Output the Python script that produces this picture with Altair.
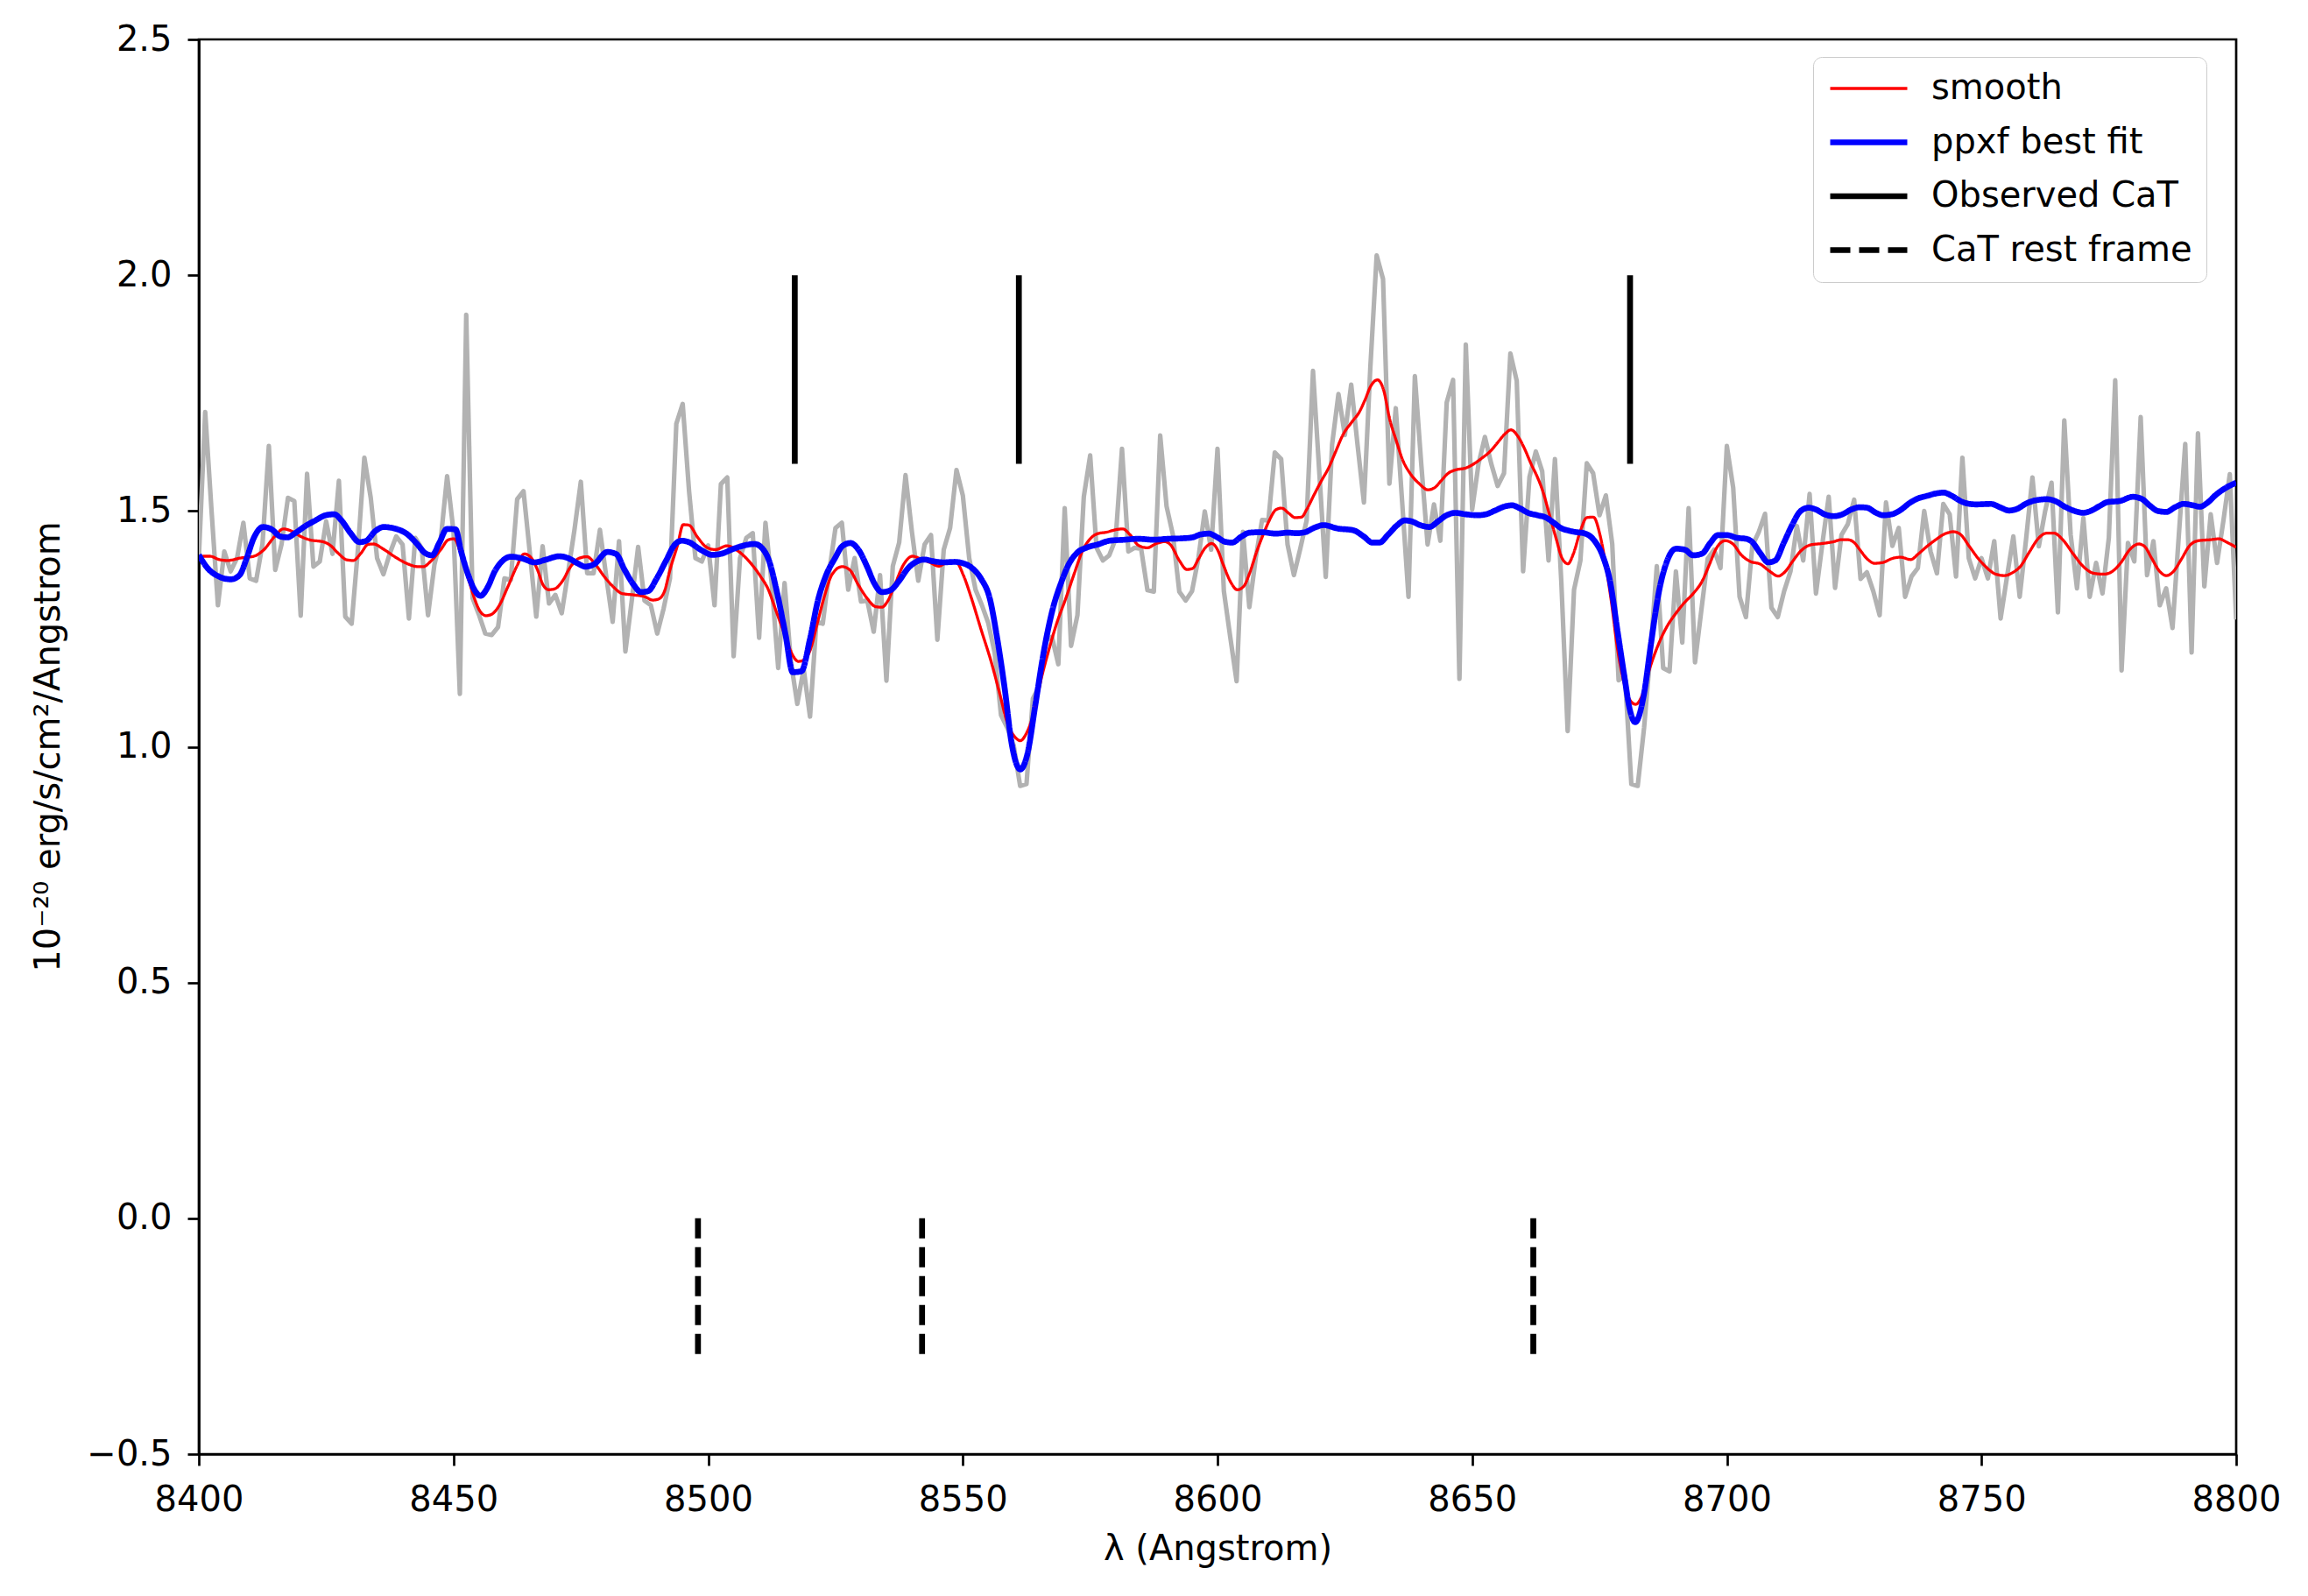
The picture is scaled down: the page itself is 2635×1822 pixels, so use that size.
import altair as alt
import pandas as pd

# ---------------- data ----------------
WAVE_START = 8400.0
WAVE_STEP = 1.25

flux_obs = [
    1.40, 1.71, 1.50, 1.30, 1.414, 1.372, 1.40, 1.475, 1.357, 1.352,
    1.43, 1.638, 1.375, 1.43, 1.528, 1.521, 1.278, 1.579, 1.382, 1.393,
    1.478, 1.409, 1.564, 1.276, 1.261, 1.42, 1.613, 1.528, 1.40, 1.366,
    1.41, 1.446, 1.429, 1.272, 1.443, 1.421, 1.279, 1.386, 1.44, 1.574,
    1.457, 1.112, 1.916, 1.315, 1.28, 1.24, 1.237, 1.254, 1.357, 1.354,
    1.525, 1.542, 1.41, 1.276, 1.425, 1.304, 1.322, 1.283, 1.37, 1.46,
    1.562, 1.368, 1.368, 1.46, 1.36, 1.265, 1.436, 1.202, 1.31, 1.424,
    1.31, 1.30, 1.24, 1.293, 1.357, 1.685, 1.727, 1.542, 1.40, 1.393,
    1.427, 1.30, 1.557, 1.571, 1.192, 1.40, 1.443, 1.453, 1.231, 1.475,
    1.343, 1.167, 1.347, 1.18, 1.091, 1.165, 1.064, 1.265, 1.261, 1.37,
    1.464, 1.475, 1.333, 1.40, 1.308, 1.31, 1.244, 1.364, 1.14, 1.383,
    1.433, 1.576, 1.456, 1.352, 1.429, 1.449, 1.227, 1.418, 1.464, 1.587,
    1.533, 1.40, 1.333, 1.30, 1.262, 1.20, 1.067, 1.04, 1.002, 0.917,
    0.921, 1.102, 1.129, 1.225, 1.233, 1.175, 1.506, 1.214, 1.279, 1.53,
    1.618, 1.422, 1.395, 1.406, 1.441, 1.632, 1.414, 1.422, 1.42, 1.332,
    1.329, 1.66, 1.51, 1.449, 1.329, 1.31, 1.33, 1.40, 1.499, 1.418,
    1.632, 1.33, 1.233, 1.139, 1.456, 1.296, 1.40, 1.481, 1.48, 1.624,
    1.61, 1.429, 1.364, 1.42, 1.48, 1.797, 1.58, 1.36, 1.641, 1.748,
    1.661, 1.768, 1.64, 1.518, 1.803, 2.042, 1.992, 1.558, 1.718, 1.52,
    1.318, 1.786, 1.60, 1.429, 1.514, 1.437, 1.73, 1.778, 1.144, 1.853,
    1.503, 1.60, 1.657, 1.60, 1.553, 1.58, 1.834, 1.776, 1.372, 1.572,
    1.626, 1.584, 1.395, 1.61, 1.35, 1.033, 1.333, 1.395, 1.601, 1.58,
    1.491, 1.533, 1.43, 1.141, 1.15, 0.921, 0.917, 1.04, 1.20, 1.383,
    1.167, 1.16, 1.372, 1.221, 1.506, 1.179, 1.29, 1.399, 1.418, 1.379,
    1.638, 1.549, 1.318, 1.275, 1.426, 1.455, 1.494, 1.295, 1.275, 1.33,
    1.372, 1.468, 1.395, 1.536, 1.325, 1.43, 1.53, 1.337, 1.449, 1.472,
    1.524, 1.356, 1.37, 1.33, 1.279, 1.518, 1.426, 1.464, 1.318, 1.361,
    1.379, 1.50, 1.414, 1.368, 1.515, 1.493, 1.361, 1.613, 1.40, 1.357,
    1.40, 1.357, 1.436, 1.272, 1.36, 1.446, 1.318, 1.44, 1.571, 1.425,
    1.50, 1.56, 1.285, 1.692, 1.45, 1.336, 1.485, 1.318, 1.39, 1.325,
    1.443, 1.777, 1.162, 1.432, 1.393, 1.699, 1.364, 1.436, 1.30, 1.336,
    1.252, 1.45, 1.642, 1.20, 1.665, 1.34, 1.493, 1.39, 1.48, 1.578,
    1.27,
]

smooth_points = [
    (8400.0, 1.40), (8401.0, 1.404), (8402.2, 1.404), (8404.0, 1.397), (8405.7, 1.395),
    (8408.0, 1.40), (8410.8, 1.404), (8412.6, 1.416), (8414.9, 1.446), (8416.6, 1.462),
    (8418.3, 1.457), (8420.0, 1.446), (8421.7, 1.439), (8424.6, 1.434), (8425.7, 1.428),
    (8427.5, 1.409), (8428.9, 1.397), (8430.3, 1.395), (8431.8, 1.41), (8433.2, 1.429),
    (8434.3, 1.43), (8436.1, 1.42), (8438.9, 1.40), (8441.2, 1.387), (8443.0, 1.382),
    (8444.1, 1.382), (8445.5, 1.393), (8447.5, 1.418), (8449.0, 1.439), (8450.1, 1.441),
    (8451.5, 1.408), (8453.0, 1.354), (8454.1, 1.315), (8455.3, 1.286), (8456.4, 1.278),
    (8457.5, 1.281), (8459.0, 1.30), (8460.7, 1.34), (8462.4, 1.382), (8463.9, 1.409),
    (8465.3, 1.40), (8466.5, 1.375), (8467.6, 1.343), (8468.7, 1.333), (8469.9, 1.335),
    (8471.3, 1.35), (8473.0, 1.382), (8474.7, 1.40), (8476.2, 1.403), (8477.9, 1.386),
    (8479.6, 1.361), (8481.3, 1.34), (8483.1, 1.325), (8485.4, 1.322), (8487.6, 1.318),
    (8489.1, 1.311), (8490.2, 1.313), (8491.4, 1.329), (8492.5, 1.375), (8494.0, 1.428),
    (8495.1, 1.471), (8496.2, 1.47), (8498.0, 1.443), (8499.7, 1.423), (8501.4, 1.418),
    (8503.7, 1.426), (8506.0, 1.414), (8508.3, 1.39), (8510.3, 1.361), (8511.7, 1.336),
    (8513.4, 1.286), (8515.2, 1.233), (8516.6, 1.194), (8517.7, 1.181), (8518.6, 1.183),
    (8520.0, 1.204), (8521.5, 1.265), (8522.9, 1.322), (8524.3, 1.365), (8526.3, 1.382),
    (8527.8, 1.375), (8529.5, 1.343), (8531.2, 1.315), (8532.9, 1.297), (8534.1, 1.296),
    (8535.2, 1.308), (8536.7, 1.345), (8538.4, 1.387), (8540.1, 1.404), (8541.8, 1.398),
    (8543.5, 1.391), (8545.3, 1.383), (8547.0, 1.391), (8548.7, 1.391), (8550.1, 1.364),
    (8551.6, 1.318), (8553.6, 1.248), (8555.6, 1.179), (8557.3, 1.11), (8558.7, 1.052),
    (8560.2, 1.021), (8561.3, 1.013), (8562.5, 1.029), (8563.9, 1.071), (8565.3, 1.14),
    (8566.8, 1.202), (8568.5, 1.264), (8570.2, 1.314), (8571.9, 1.368), (8573.6, 1.418),
    (8575.1, 1.442), (8576.5, 1.452), (8578.2, 1.455), (8579.9, 1.46), (8581.4, 1.462),
    (8582.8, 1.45), (8584.5, 1.427), (8586.2, 1.422), (8588.0, 1.431), (8589.7, 1.435),
    (8590.8, 1.428), (8592.5, 1.395), (8594.0, 1.376), (8595.1, 1.378), (8596.3, 1.399),
    (8597.6, 1.422), (8598.9, 1.431), (8600.0, 1.418), (8601.1, 1.387), (8602.6, 1.349),
    (8603.9, 1.333), (8605.2, 1.341), (8606.3, 1.368), (8607.7, 1.414), (8609.2, 1.456),
    (8610.3, 1.483), (8611.5, 1.503), (8612.6, 1.506), (8614.0, 1.495), (8615.2, 1.486),
    (8616.5, 1.487), (8617.5, 1.503), (8618.9, 1.533), (8620.4, 1.564), (8621.8, 1.591),
    (8623.2, 1.626), (8624.6, 1.661), (8626.4, 1.689), (8627.8, 1.709), (8628.9, 1.734),
    (8630.1, 1.765), (8631.4, 1.778), (8632.6, 1.757), (8633.8, 1.695), (8635.1, 1.649),
    (8636.4, 1.607), (8637.8, 1.58), (8639.6, 1.558), (8641.3, 1.545), (8642.7, 1.55),
    (8643.9, 1.564), (8645.3, 1.58), (8646.7, 1.587), (8648.7, 1.591), (8650.2, 1.599),
    (8651.9, 1.612), (8653.6, 1.627), (8655.0, 1.645), (8656.5, 1.664), (8657.6, 1.672),
    (8659.0, 1.658), (8660.2, 1.634), (8661.6, 1.599), (8662.8, 1.572), (8663.9, 1.541),
    (8665.1, 1.495), (8666.5, 1.441), (8667.6, 1.401), (8668.8, 1.388), (8669.9, 1.41),
    (8671.2, 1.456), (8672.5, 1.486), (8673.8, 1.487), (8675.1, 1.449), (8676.2, 1.387),
    (8677.4, 1.302), (8678.5, 1.21), (8679.7, 1.141), (8680.8, 1.102), (8682.1, 1.09),
    (8683.4, 1.11), (8684.8, 1.164), (8686.6, 1.218), (8688.3, 1.256), (8690.0, 1.283),
    (8691.7, 1.306), (8693.4, 1.325), (8695.2, 1.352), (8696.6, 1.387), (8698.0, 1.422),
    (8699.7, 1.437), (8701.2, 1.43), (8702.9, 1.406), (8704.6, 1.393), (8706.6, 1.387),
    (8708.3, 1.373), (8710.1, 1.362), (8711.5, 1.372), (8712.9, 1.393), (8714.6, 1.416),
    (8716.4, 1.428), (8718.7, 1.431), (8721.0, 1.435), (8722.4, 1.439), (8723.8, 1.439),
    (8725.0, 1.433), (8726.1, 1.418), (8727.5, 1.399), (8729.0, 1.389), (8730.7, 1.391),
    (8732.4, 1.399), (8734.1, 1.402), (8736.1, 1.397), (8737.6, 1.409), (8739.3, 1.425),
    (8741.0, 1.439), (8742.7, 1.451), (8744.5, 1.456), (8745.9, 1.45), (8747.6, 1.425),
    (8749.3, 1.40), (8751.1, 1.379), (8752.8, 1.366), (8754.5, 1.363), (8756.2, 1.37),
    (8757.6, 1.382), (8759.4, 1.413), (8761.1, 1.441), (8762.8, 1.453), (8764.2, 1.453),
    (8765.95, 1.439), (8768.0, 1.409), (8770.0, 1.382), (8772.0, 1.368), (8774.0, 1.366),
    (8775.7, 1.372), (8777.4, 1.391), (8779.1, 1.418), (8780.9, 1.43), (8782.0, 1.425),
    (8783.4, 1.40), (8784.9, 1.373), (8786.3, 1.363), (8787.7, 1.372), (8789.2, 1.397),
    (8790.9, 1.427), (8792.6, 1.437), (8794.9, 1.439), (8796.6, 1.441), (8798.1, 1.434),
    (8800.0, 1.423),
]

fit_points = [
    (8400.0, 1.407), (8401.7, 1.379), (8403.4, 1.364), (8406.3, 1.355), (8408.0, 1.364),
    (8409.4, 1.40), (8410.8, 1.443), (8412.6, 1.466), (8414.3, 1.461), (8416.0, 1.446),
    (8417.4, 1.444), (8418.9, 1.453), (8420.9, 1.468), (8422.9, 1.48), (8424.9, 1.491),
    (8426.6, 1.493), (8428.0, 1.48), (8429.8, 1.453), (8431.5, 1.434), (8432.9, 1.437),
    (8434.6, 1.457), (8436.3, 1.466), (8438.4, 1.463), (8440.9, 1.451), (8442.7, 1.432),
    (8444.4, 1.411), (8445.8, 1.406), (8447.2, 1.432), (8448.7, 1.462), (8450.4, 1.461),
    (8451.5, 1.414), (8453.0, 1.361), (8454.1, 1.333), (8455.3, 1.32), (8456.7, 1.338),
    (8458.1, 1.372), (8459.6, 1.394), (8461.3, 1.403), (8463.6, 1.399), (8465.9, 1.391),
    (8468.2, 1.397), (8470.7, 1.404), (8472.5, 1.40), (8474.2, 1.39), (8475.9, 1.382),
    (8477.6, 1.387), (8480.2, 1.413), (8481.9, 1.409), (8483.6, 1.375), (8485.4, 1.343),
    (8486.8, 1.328), (8488.2, 1.33), (8489.9, 1.357), (8491.7, 1.394), (8493.4, 1.428),
    (8494.8, 1.437), (8496.2, 1.434), (8498.5, 1.418), (8500.8, 1.407), (8502.5, 1.409),
    (8504.8, 1.419), (8507.1, 1.427), (8509.1, 1.43), (8510.6, 1.421), (8512.0, 1.393),
    (8513.4, 1.333), (8515.2, 1.237), (8516.6, 1.158), (8518.3, 1.16), (8520.0, 1.229),
    (8521.5, 1.308), (8523.2, 1.365), (8524.9, 1.40), (8526.3, 1.425), (8527.9, 1.432),
    (8529.5, 1.418), (8531.2, 1.382), (8532.6, 1.347), (8534.1, 1.328), (8535.8, 1.332),
    (8537.5, 1.352), (8539.2, 1.378), (8541.0, 1.393), (8542.4, 1.397), (8544.4, 1.393),
    (8546.1, 1.391), (8548.4, 1.392), (8550.1, 1.389), (8551.8, 1.379), (8553.6, 1.356),
    (8555.3, 1.314), (8556.7, 1.233), (8558.2, 1.125), (8559.6, 1.006), (8561.3, 0.952),
    (8562.7, 0.986), (8564.2, 1.086), (8565.9, 1.202), (8567.6, 1.29), (8569.3, 1.348),
    (8570.8, 1.387), (8572.5, 1.412), (8574.2, 1.422), (8576.5, 1.429), (8578.8, 1.437),
    (8581.7, 1.439), (8584.5, 1.441), (8587.4, 1.439), (8590.3, 1.441), (8593.1, 1.442),
    (8595.1, 1.444), (8596.6, 1.45), (8598.3, 1.452), (8600.0, 1.444), (8601.4, 1.435),
    (8602.9, 1.433), (8604.6, 1.445), (8606.3, 1.454), (8608.6, 1.455), (8611.5, 1.452),
    (8613.8, 1.454), (8615.5, 1.453), (8617.2, 1.455), (8618.9, 1.464), (8620.9, 1.47),
    (8623.5, 1.463), (8626.7, 1.459), (8628.7, 1.446), (8630.4, 1.433), (8631.8, 1.433),
    (8633.5, 1.45), (8635.3, 1.47), (8636.7, 1.48), (8638.1, 1.478), (8639.8, 1.47),
    (8641.6, 1.466), (8643.3, 1.478), (8645.0, 1.491), (8646.7, 1.496), (8648.7, 1.493),
    (8651.0, 1.491), (8652.7, 1.493), (8654.5, 1.501), (8656.2, 1.509), (8657.8, 1.512),
    (8659.3, 1.506), (8661.0, 1.496), (8662.8, 1.491), (8664.5, 1.486), (8665.9, 1.476),
    (8667.4, 1.464), (8669.1, 1.458), (8670.5, 1.455), (8671.9, 1.453), (8674.0, 1.437),
    (8675.7, 1.403), (8677.1, 1.349), (8678.5, 1.248), (8680.0, 1.141), (8680.8, 1.087),
    (8682.0, 1.052), (8683.7, 1.11), (8685.1, 1.218), (8686.6, 1.325), (8688.3, 1.395),
    (8690.0, 1.42), (8691.7, 1.418), (8693.4, 1.406), (8695.2, 1.41), (8696.6, 1.43),
    (8698.3, 1.449), (8700.0, 1.449), (8702.0, 1.443), (8703.8, 1.441), (8704.9, 1.435),
    (8706.6, 1.41), (8708.1, 1.391), (8709.5, 1.395), (8711.2, 1.433), (8712.9, 1.472),
    (8714.4, 1.499), (8716.1, 1.507), (8717.5, 1.503), (8719.2, 1.493), (8721.0, 1.489),
    (8722.7, 1.493), (8724.4, 1.503), (8726.1, 1.508), (8727.5, 1.507), (8729.3, 1.496),
    (8730.7, 1.491), (8732.4, 1.493), (8734.1, 1.502), (8735.9, 1.517), (8737.6, 1.527),
    (8739.3, 1.532), (8741.0, 1.537), (8742.5, 1.539), (8744.2, 1.532), (8745.9, 1.521),
    (8747.6, 1.515), (8749.0, 1.514), (8751.9, 1.515), (8753.6, 1.508), (8755.4, 1.501),
    (8757.1, 1.505), (8758.8, 1.516), (8760.8, 1.523), (8762.8, 1.525), (8764.5, 1.521),
    (8766.2, 1.51), (8768.3, 1.50), (8770.0, 1.496), (8771.4, 1.50), (8773.1, 1.51),
    (8774.8, 1.519), (8777.1, 1.521), (8779.7, 1.53), (8781.4, 1.526), (8783.2, 1.51),
    (8784.6, 1.50), (8786.3, 1.498), (8788.0, 1.508), (8789.7, 1.515), (8791.5, 1.512),
    (8792.9, 1.509), (8794.3, 1.517), (8796.1, 1.535), (8797.8, 1.548), (8800.0, 1.56),
]

cat_observed = [8517.0, 8561.0, 8681.0]
cat_rest = [8498.0, 8542.0, 8662.0]
observed_span = (1.6, 2.0)
rest_span = (0.0, -0.3)

x_ticks = [8400, 8450, 8500, 8550, 8600, 8650, 8700, 8750, 8800]
y_ticks = [-0.5, 0.0, 0.5, 1.0, 1.5, 2.0, 2.5]

series_names = ["smooth", "ppxf best fit", "Observed CaT", "CaT rest frame"]

# ---------------- tables ----------------
obs_df = pd.DataFrame({
    "lam": [WAVE_START + WAVE_STEP * i for i in range(len(flux_obs))],
    "flux": flux_obs,
})
smooth_df = pd.DataFrame(smooth_points, columns=["lam", "flux"])
smooth_df["series"] = "smooth"
fit_df = pd.DataFrame(fit_points, columns=["lam", "flux"])
fit_df["series"] = "ppxf best fit"

cat_rows = []
for w in cat_observed:
    cat_rows.append({"lam": w, "y1": observed_span[0], "y2": observed_span[1], "series": "Observed CaT"})
for w in cat_rest:
    cat_rows.append({"lam": w, "y1": rest_span[0], "y2": rest_span[1], "series": "CaT rest frame"})
cat_df = pd.DataFrame(cat_rows)

# ---------------- scales / encodings ----------------
FONT = "DejaVu Sans"
x_scale = alt.Scale(domain=[8400, 8800], nice=False, zero=False)
y_scale = alt.Scale(domain=[-0.5, 2.5], nice=False, zero=False)

legend = alt.Legend(
    title=None, orient="none", legendX=1843, legendY=20,
    symbolType="stroke", symbolSize=7744, clipHeight=40,
    rowPadding=21.5, padding=16, labelOffset=24, labelLimit=1000,
    labelFont=FONT, labelFontSize=40, labelColor="black", labelBaseline="middle",
    fillColor="rgba(255,255,255,0.8)", strokeColor="#cccccc", cornerRadius=10,
    symbolOpacity=1,
)

color_enc = alt.Color("series:N", scale=alt.Scale(domain=series_names,
                      range=["#ff0000", "#0000ff", "#000000", "#000000"]), legend=legend)
width_enc = alt.StrokeWidth("series:N", scale=alt.Scale(type="ordinal", domain=series_names,
                            range=[3.3, 6.7, 6.7, 6.7]), legend=legend)
dash_enc = alt.StrokeDash("series:N", scale=alt.Scale(domain=series_names,
                          range=[[1, 0], [1, 0], [1, 0], [23, 10]]), legend=legend)

x_axis = alt.Axis(values=x_ticks, format="d", title="λ (Angstrom)", labelFlush=False,
                  labelPadding=19, titleY=108, titleBaseline="middle")
y_axis = alt.Axis(values=y_ticks, format=".1f", title="10⁻²⁰ erg/s/cm²/Angstrom",
                  labelPadding=18, titleX=-172, titleY=807, titleAngle=270,
                  titleAlign="center", titleBaseline="middle")

raw = alt.Chart(obs_df).mark_line(color="#b2b2b2", strokeWidth=5.2, clip=True,
                                  strokeJoin="round").encode(
    x=alt.X("lam:Q", scale=x_scale, axis=x_axis),
    y=alt.Y("flux:Q", scale=y_scale, axis=y_axis),
)

smooth = alt.Chart(smooth_df).mark_line(clip=True, interpolate="monotone",
                                        strokeJoin="round").encode(
    x=alt.X("lam:Q", scale=x_scale),
    y=alt.Y("flux:Q", scale=y_scale),
    color=color_enc, strokeWidth=width_enc, strokeDash=dash_enc,
)

fit = alt.Chart(fit_df).mark_line(clip=True, interpolate="monotone",
                                  strokeJoin="round").encode(
    x=alt.X("lam:Q", scale=x_scale),
    y=alt.Y("flux:Q", scale=y_scale),
    color=color_enc, strokeWidth=width_enc, strokeDash=dash_enc,
)

cat = alt.Chart(cat_df).mark_rule(clip=True).encode(
    x=alt.X("lam:Q", scale=x_scale),
    y=alt.Y("y1:Q", scale=y_scale),
    y2="y2:Q",
    color=color_enc, strokeWidth=width_enc, strokeDash=dash_enc,
)

chart = alt.layer(raw, smooth, fit, cat).properties(
    width=2326, height=1615,
    autosize="none",
    padding={"left": 219, "top": 37, "right": 70, "bottom": 150},
).configure(font=FONT).configure_axis(
    labelFont=FONT, labelFontSize=40, labelColor="black",
    titleFont=FONT, titleFontSize=40, titleColor="black", titleFontWeight="normal",
    tickColor="black", tickWidth=2.7, tickSize=13,
    domainColor="black", domainWidth=2.7, grid=False,
).configure_view(stroke="black", strokeWidth=2.7)

chart.save("out.html", embed_options={"renderer": "svg", "actions": False})
